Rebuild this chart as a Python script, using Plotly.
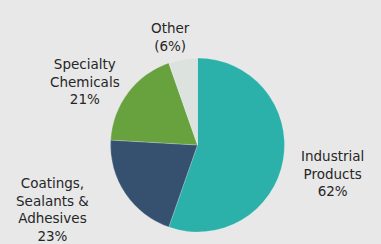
import plotly.graph_objects as go

categories = ["Industrial<br>Products", "Coatings,<br>Sealants &<br>Adhesives", "Specialty<br>Chemicals", "Other"]
values = [62, 23, 21, 6]
label_texts = ["Industrial<br>Products<br>62%", "Coatings,<br>Sealants &<br>Adhesives<br>23%",
               "Specialty<br>Chemicals<br>21%", "Other<br>(6%)"]
colors = ["#2bb0aa", "#35516f", "#68a23f", "#dce2de"]

W, H = 381, 244
# label centre positions in pixels (x, y from top)
label_pos = [(332, 173), (52, 209), (85, 81), (170, 37)]

fig = go.Figure()
fig.add_trace(go.Pie(
    labels=categories, values=values, sort=False, direction="clockwise", rotation=0,
    marker=dict(colors=colors, line=dict(color="rgba(255,255,255,0.35)", width=0.6)),
    textinfo="none", hoverinfo="label+value", showlegend=False,
    domain=dict(x=[110.5 / W, 284.5 / W], y=[12 / H, 186 / H]),
))

for txt, (px, py) in zip(label_texts, label_pos):
    fig.add_annotation(x=px / W, y=1 - py / H, xref="paper", yref="paper", text=txt,
                       showarrow=False, xanchor="center", yanchor="middle", align="center",
                       font=dict(family="DejaVu Sans", size=13.5, color="#262626"))

fig.update_layout(width=W, height=H, margin=dict(l=0, r=0, t=0, b=0),
                  paper_bgcolor="#e8e8e8", plot_bgcolor="#e8e8e8")
fig.write_html("out.html", config={"displayModeBar": False},
               post_script="document.body.style.margin='0';document.body.style.background='#e8e8e8';")
